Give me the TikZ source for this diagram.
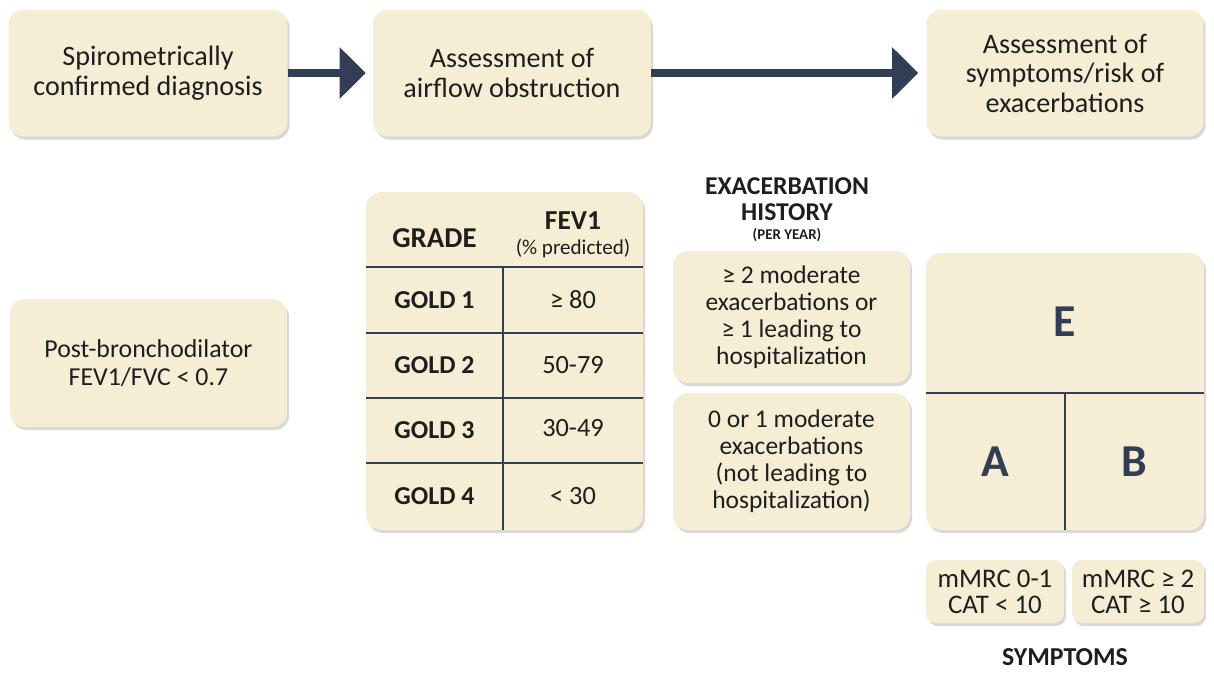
\documentclass[tikz,border=0pt]{standalone}
\usepackage{fontspec}
\setmainfont{Carlito}
\usepackage{tikz}
\usetikzlibrary{positioning, calc, arrows.meta, shadows}
\definecolor{BoxFill}{RGB}{246,237,213}
\definecolor{NavyLine}{RGB}{50,62,86}
\definecolor{TextDark}{RGB}{30,30,30}
\tikzset{
    panel/.style={
        rectangle,
        rounded corners=3mm,
        fill=BoxFill,
        draw=none,
        align=center,
        text=TextDark,
        font=\fontsize{16}{16.8}\selectfont,
        drop shadow={shadow xshift=1.2pt, shadow yshift=-1.8pt, opacity=0.3}
    },
    smallpanel/.style={panel, rounded corners=2mm, font=\fontsize{15.3}{14.8}\selectfont},
    celltxt/.style={align=center, text=TextDark, font=\fontsize{15}{16}\selectfont},
    boldtxt/.style={celltxt, font=\fontsize{14.7}{16}\bfseries},
    grouplbl/.style={text=NavyLine, font=\fontsize{26}{28}\bfseries},
    divider/.style={draw=NavyLine, line width=1.1pt},
    flow/.style={-{Triangle[length=0.52cm, width=1cm]}, line width=4.5pt, draw=NavyLine}
}
\begin{document}
\begin{tikzpicture}[x=0.02cm, y=-0.02cm]
\useasboundingbox (0,0) rectangle (1214,673);

% Top row
\node[panel, minimum width=5.58cm, minimum height=2.54cm] (spiro) at (148,73) {Spirometrically\\confirmed diagnosis};
\node[panel, minimum width=5.56cm, minimum height=2.54cm] (airflow) at (512,73) {Assessment of\\airflow obstruction};
\node[panel, minimum width=5.54cm, minimum height=2.54cm] (symrisk) at (1065,73) {Assessment of\\symptoms/risk of\\exacerbations};

\draw[flow, shorten >=0.14cm] (spiro) -- (airflow);
\draw[flow, shorten >=0.16cm] (airflow) -- (symrisk);

% Spirometry criterion
\node[panel, font=\fontsize{14.7}{16}\selectfont, minimum width=5.54cm, minimum height=2.56cm] (postbd) at (148.5,363) {Post-bronchodilator\\FEV1/FVC < 0.7};

% GOLD grades
\node[panel, minimum width=5.54cm, minimum height=6.76cm] (gradetab) at (504.5,361) {};
\foreach \rowy in {267,333,398,463}
    \draw[divider] (gradetab.west |- 0,\rowy) -- (gradetab.east |- 0,\rowy);
\draw[divider] (503,267) -- (503,267 |- gradetab.south);

\node[boldtxt, font=\fontsize{16.4}{17}\bfseries] (gradehd) at (434.5,238) {GRADE};
\node[boldtxt, font=\fontsize{15.6}{17}\bfseries] (fevhd) at (573,221) {FEV1};
\node[celltxt, font=\fontsize{12}{13}\selectfont, below=-0.06cm of fevhd] (predhd) {(\% predicted)};
\node[boldtxt] (gold1) at (434.5,300) {GOLD 1};
\node[celltxt] (fev1) at (573,300) {≥ 80};
\node[boldtxt] (gold2) at (434.5,365.5) {GOLD 2};
\node[celltxt] (fev2) at (573,365.5) {50-79};
\node[boldtxt] (gold3) at (434.5,430.5) {GOLD 3};
\node[celltxt] (fev3) at (573,428) {30-49};
\node[boldtxt] (gold4) at (434.5,496.5) {GOLD 4};
\node[celltxt] (fev4) at (573,496.5) {< 30};

% Exacerbation history
\node[boldtxt, font=\fontsize{14.6}{14.6}\bfseries] (exachead) at (787,199) {EXACERBATION\\HISTORY};
\node[boldtxt, font=\fontsize{8.5}{10}\bfseries, below=-0.08cm of exachead] (peryear) {(PER YEAR)};

\node[panel, font=\fontsize{14.5}{15.4}\selectfont, minimum width=4.74cm, minimum height=2.64cm] (exachigh) at (791.5,317) {≥ 2 moderate\\exacerbations or\\≥ 1 leading to\\hospitalization};
\node[panel, font=\fontsize{14.5}{15.4}\selectfont, minimum width=4.74cm, minimum height=2.74cm] (exaclow) at (791.5,461.5) {0 or 1 moderate\\exacerbations\\(not leading to\\hospitalization)};

% ABE groups
\node[panel, minimum width=5.56cm, minimum height=5.54cm] (abe) at (1065,391.5) {};
\draw[divider] (abe.west |- 0,393) -- (abe.east |- 0,393);
\draw[divider] (abe.center |- 0,393) -- (abe.south);

\node[grouplbl] (grpe) at (1065,322) {E};
\node[grouplbl] (grpa) at (995,462) {A};
\node[grouplbl] (grpb) at (1134,462) {B};

% Symptoms
\node[smallpanel, minimum width=2.76cm, minimum height=1.26cm] (mmrclow) at (995,591.5) {mMRC 0-1\\CAT < 10};
\node[smallpanel, minimum width=2.64cm, minimum height=1.26cm] (mmrchigh) at (1138,591.5) {mMRC ≥ 2\\CAT ≥ 10};
\node[boldtxt, font=\fontsize{14.7}{16}\bfseries] (symplbl) at (1065,657) {SYMPTOMS};

\end{tikzpicture}
\end{document}
